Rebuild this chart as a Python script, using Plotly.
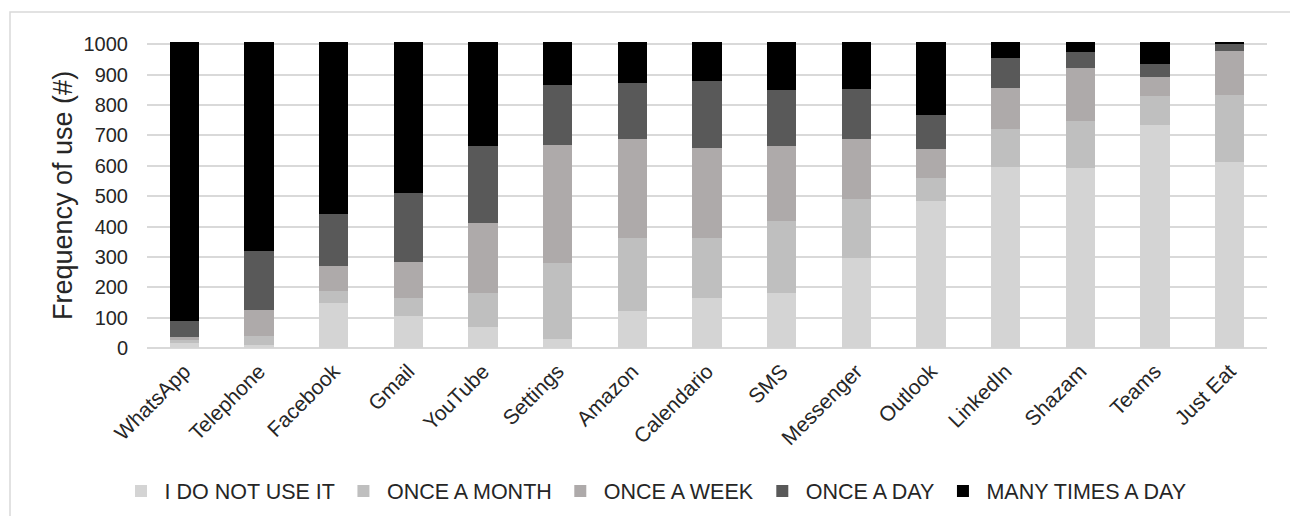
import plotly.graph_objects as go

apps = ["WhatsApp", "Telephone", "Facebook", "Gmail", "YouTube", "Settings", "Amazon",
        "Calendario", "SMS", "Messenger", "Outlook", "LinkedIn", "Shazam", "Teams", "Just Eat"]

not_use =   [16,   9, 148, 105,  69,  29, 121, 164, 182, 297, 485, 597, 592, 735, 613]
month =     [10,  29,  40,  60, 111, 250, 242, 199, 236, 193,  75, 125, 156,  95, 220]
week =      [ 9,  88,  83, 119, 233, 391, 324, 296, 247, 197,  95, 135, 174,  61, 145]
day =       [53, 195, 169, 225, 252, 196, 186, 221, 186, 166, 113,  99,  53,  43,  22]
many =      [921, 688, 569, 500, 344, 143, 136, 129, 158, 156, 241,  53,  34,  75,   9]

series_names = ["I DO NOT USE IT", "ONCE A MONTH", "ONCE A WEEK", "ONCE A DAY", "MANY TIMES A DAY"]
series_values = [not_use, month, week, day, many]
series_colors = ["#d4d4d4", "#bfbfbf", "#aeaaaa", "#595959", "#000000"]

y_ticks = list(range(0, 1001, 100))

fig = go.Figure()
for name, vals, col in zip(series_names, series_values, series_colors):
    fig.add_trace(go.Bar(x=apps, y=vals, name=name, marker=dict(color=col, line=dict(width=0))))

# page has an 8px body margin; work in page pixel coordinates
OFF = 8
W, H = 1290, 508
ml, mr, mt, mb = 147 - OFF, 31, 36 - OFF, 168
pw = W - ml - mr
ph = H - mt - mb

def px_x(x):
    return (x - OFF - ml) / pw

def px_y(y):
    return (H - mb - (y - OFF)) / ph

fig.update_layout(
    width=W, height=H,
    margin=dict(l=ml, r=mr, t=mt, b=mb, pad=0, autoexpand=False),
    barmode="stack",
    bargap=0.61,
    plot_bgcolor="white",
    paper_bgcolor="white",
    font=dict(family="Liberation Sans, Arial, sans-serif", color="#262626"),
    showlegend=True,
    legend=dict(orientation="h", x=px_x(117.5), xanchor="left", y=px_y(491), yanchor="middle",
                traceorder="normal", font=dict(size=21.5, color="#262626"),
                itemwidth=37, itemsizing="constant", tracegroupgap=0),
    xaxis=dict(tickangle=-45, tickfont=dict(size=21, color="#262626"), showgrid=False,
               showline=False, ticks="", range=[-0.5, len(apps) - 0.5], fixedrange=True,
               ticklabelstandoff=6, automargin=False),
    yaxis=dict(range=[0, 1027.5], tickvals=y_ticks, tickfont=dict(size=20, color="#262626"),
               showgrid=True, gridcolor="#d9d9d9", gridwidth=1.5, zeroline=True,
               zerolinecolor="#d9d9d9", zerolinewidth=1.5, showline=False, ticks="",
               ticklabelstandoff=18, automargin=False),
    annotations=[dict(text="Frequency of use (#)", textangle=-90, xref="paper", yref="paper",
                      x=px_x(63), y=px_y(196), xanchor="center", yanchor="middle",
                      showarrow=False, font=dict(size=27, color="#262626"))],
    shapes=[dict(type="rect", xref="paper", yref="paper", x0=px_x(10), x1=px_x(1295),
                 y0=px_y(540), y1=px_y(12), line=dict(color="#d9d9d9", width=1.5),
                 fillcolor="rgba(0,0,0,0)", layer="below")],
)

fig.write_html("out.html")
